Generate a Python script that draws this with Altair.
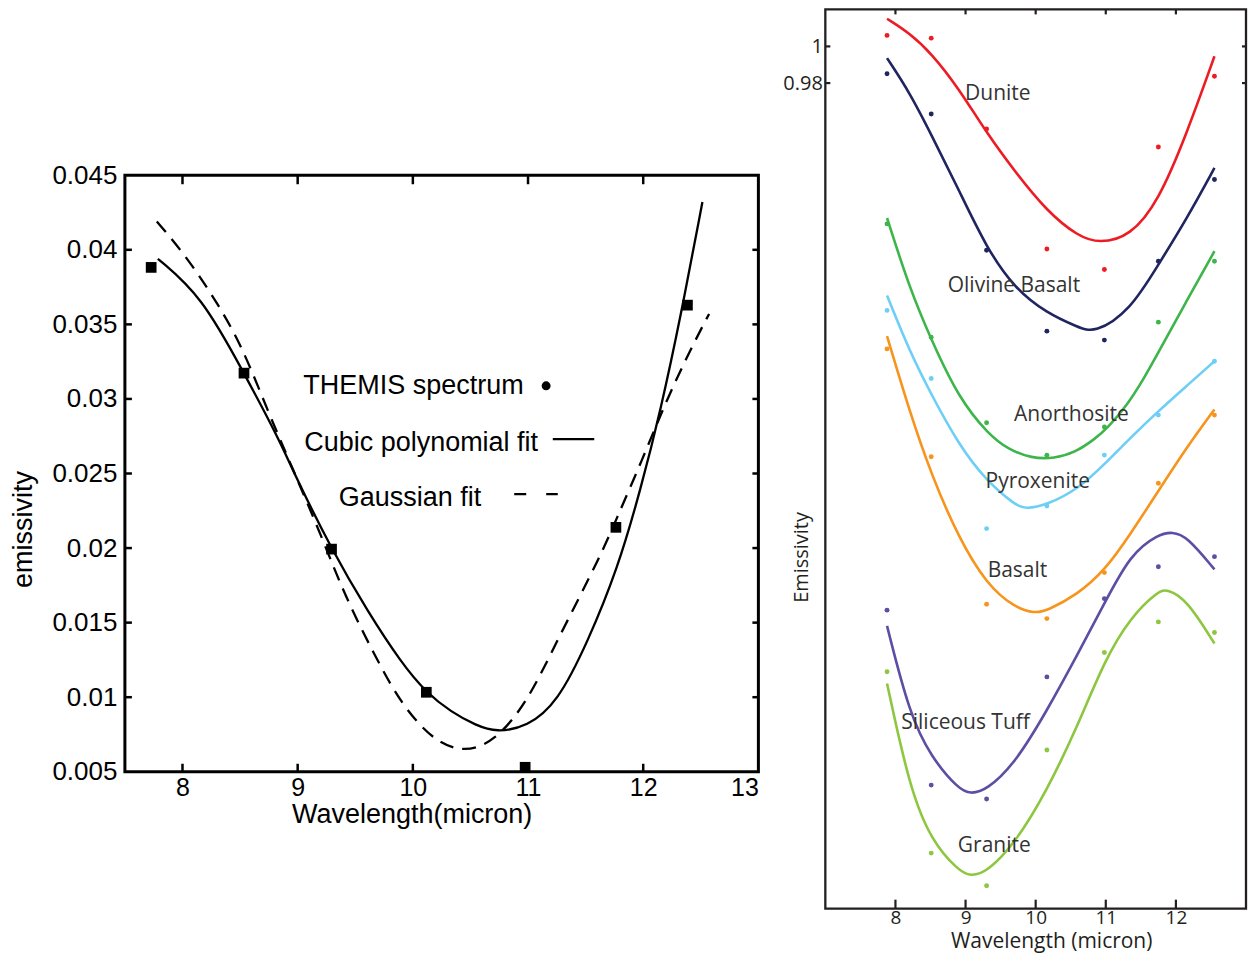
import altair as alt
import pandas as pd

# ---------------- Left panel: THEMIS spectrum with two fits ----------------
themis_wl = [7.728, 8.534, 9.294, 10.117, 10.975, 11.763, 12.384]
themis_em = [0.03882, 0.03173, 0.01993, 0.01033, 0.00530, 0.02139, 0.03629]

cubic_wl = [7.786, 8.167, 8.529, 8.832, 8.976, 9.294, 9.611, 9.900, 10.117,
            10.334, 10.550, 10.724, 10.993, 11.258, 11.518, 11.778, 11.980,
            12.153, 12.327, 12.514]
cubic_em = [0.0394, 0.0369, 0.0318, 0.0274, 0.0249, 0.0199, 0.0157, 0.0123,
            0.0103, 0.0090, 0.0081, 0.00765, 0.0080, 0.00966, 0.0137, 0.0186,
            0.0240, 0.0293, 0.0356, 0.0432]

gauss_wl = [7.777, 8.009, 8.283, 8.514, 8.745, 8.947, 9.207, 9.409, 9.669,
            9.900, 10.189, 10.449, 10.709, 10.998, 11.258, 11.633, 11.792,
            11.980, 12.211, 12.442, 12.572]
gauss_em = [0.0419, 0.0398, 0.0367, 0.0336, 0.0291, 0.0255, 0.0208, 0.0168,
            0.0128, 0.0095, 0.0070, 0.0063, 0.0070, 0.0097, 0.0139, 0.0195,
            0.0224, 0.0257, 0.0301, 0.0338, 0.0357]

left_x_ticks = [8, 9, 10, 11, 12, 13]
left_y_ticks = [0.005, 0.01, 0.015, 0.02, 0.025, 0.03, 0.035, 0.04, 0.045]

legend_labels = ["THEMIS spectrum", "Cubic polynomial fit", "Gaussian fit"]
legend_label_wl = [9.049, 9.057, 9.357]
legend_label_em = [0.03032, 0.02652, 0.02284]

# ---------------- Right panel: laboratory rock spectra ----------------
rocks = ["Dunite", "Olivine Basalt", "Anorthosite", "Pyroxenite", "Basalt",
         "Siliceous Tuff", "Granite"]
rock_colors = ["#ed1c24", "#1f2561", "#3db54a", "#6dcff6", "#f7941d",
               "#5c4ea3", "#8dc63f"]

band_wl = [7.88, 8.51, 9.30, 10.16, 10.98, 11.75, 12.55]
dunite_pts = [1.0060, 1.0045, 0.9550, 0.8895, 0.8783, 0.9451, 0.9837]
olivine_pts = [0.9851, 0.9631, 0.8888, 0.8447, 0.8398, 0.8828, 0.9274]
anorth_pts = [0.9032, 0.8414, 0.7947, 0.7770, 0.7924, 0.8496, 0.8828]
pyrox_pts = [0.8560, 0.8189, 0.7370, 0.7493, 0.7771, 0.7989, 0.8283]
basalt_pts = [0.8350, 0.7762, 0.6957, 0.6879, 0.7130, 0.7617, 0.7989]
tuff_pts = [0.6925, 0.5971, 0.5895, 0.6561, 0.6988, 0.7162, 0.7217]
granite_pts = [0.6589, 0.5600, 0.5422, 0.6162, 0.6694, 0.6861, 0.6803]

dunite_fit_wl = [7.88, 8.20, 8.51, 8.90, 9.30, 9.70, 10.16, 10.60, 10.91, 11.35, 11.75, 12.15, 12.55]
dunite_fit_em = [1.0151, 1.0073, 0.9964, 0.9773, 0.9528, 0.9319, 0.9101, 0.8965, 0.8925, 0.8965, 0.9155, 0.9519, 0.9946]

olivine_fit_wl = [7.88, 8.20, 8.51, 8.90, 9.30, 9.70, 10.16, 10.60, 10.84, 11.35, 11.75, 12.15, 12.55]
olivine_fit_em = [0.9936, 0.9750, 0.9520, 0.9220, 0.8900, 0.8680, 0.8545, 0.8470, 0.8434, 0.8560, 0.8810, 0.9057, 0.9337]

anorth_fit_wl = [7.88, 8.20, 8.51, 8.90, 9.326, 9.61, 9.94, 10.27, 10.556, 10.84, 11.028, 11.312, 11.549, 11.75, 12.15, 12.55]
anorth_fit_em = [0.9064, 0.8683, 0.8400, 0.8083, 0.7884, 0.7802, 0.7753, 0.7753, 0.7784, 0.7857, 0.7920, 0.8047, 0.8192, 0.8330, 0.8610, 0.8883]

pyrox_fit_wl = [7.88, 8.20, 8.51, 8.90, 9.30, 9.70, 9.85, 10.16, 10.60, 10.98, 11.35, 11.75, 12.15, 12.55]
pyrox_fit_em = [0.8641, 0.8338, 0.8102, 0.7829, 0.7629, 0.7502, 0.7475, 0.7499, 0.7584, 0.7720, 0.7865, 0.8011, 0.8147, 0.8283]

basalt_fit_wl = [7.88, 8.20, 8.51, 8.90, 9.30, 9.70, 9.99, 10.16, 10.60, 10.98, 11.35, 11.75, 12.15, 12.55]
basalt_fit_em = [0.8420, 0.8011, 0.7666, 0.7320, 0.7066, 0.6939, 0.6908, 0.6921, 0.7012, 0.7139, 0.7339, 0.7575, 0.7811, 0.8020]

tuff_fit_wl = [7.88, 8.20, 8.51, 8.90, 9.07, 9.30, 9.70, 10.16, 10.60, 10.98, 11.35, 11.75, 11.95, 12.15, 12.55]
tuff_fit_em = [0.6839, 0.6358, 0.6122, 0.5949, 0.5922, 0.5944, 0.6086, 0.6376, 0.6685, 0.6962, 0.7230, 0.7339, 0.7352, 0.7330, 0.7148]

granite_fit_wl = [7.88, 8.20, 8.51, 8.90, 9.07, 9.30, 9.70, 10.16, 10.60, 10.98, 11.35, 11.75, 11.88, 12.15, 12.55]
granite_fit_em = [0.6525, 0.5958, 0.5668, 0.5504, 0.5473, 0.5495, 0.5650, 0.5940, 0.6294, 0.6649, 0.6885, 0.7030, 0.7039, 0.6985, 0.6743]

label_wl = [9.46, 9.69, 10.51, 10.03, 9.74, 9.00, 9.41]
label_em = [0.9738, 0.8694, 0.7989, 0.7624, 0.7139, 0.6312, 0.5640]

right_x_ticks = [8, 9, 10, 11, 12]
right_y_ticks = [0.98, 1]

# ---------------- build tables ----------------
themis_df = pd.DataFrame({"wl": themis_wl, "em": themis_em})
cubic_df = pd.DataFrame({"wl": cubic_wl, "em": cubic_em})
gauss_df = pd.DataFrame({"wl": gauss_wl, "em": gauss_em})
legend_df = pd.DataFrame({"wl": legend_label_wl, "em": legend_label_em, "txt": legend_labels})

pts_by_rock = [dunite_pts, olivine_pts, anorth_pts, pyrox_pts, basalt_pts, tuff_pts, granite_pts]
fits_by_rock = [
    (dunite_fit_wl, dunite_fit_em), (olivine_fit_wl, olivine_fit_em),
    (anorth_fit_wl, anorth_fit_em), (pyrox_fit_wl, pyrox_fit_em),
    (basalt_fit_wl, basalt_fit_em), (tuff_fit_wl, tuff_fit_em),
    (granite_fit_wl, granite_fit_em),
]
pts_rows, fit_rows = [], []
for rock, pts, (fw, fe) in zip(rocks, pts_by_rock, fits_by_rock):
    pts_rows += [{"rock": rock, "wl": w, "em": e} for w, e in zip(band_wl, pts)]
    fit_rows += [{"rock": rock, "wl": w, "em": e} for w, e in zip(fw, fe)]
rock_pts_df = pd.DataFrame(pts_rows)
rock_fit_df = pd.DataFrame(fit_rows)
rock_lbl_df = pd.DataFrame({"wl": label_wl, "em": label_em, "rock": rocks})

# ---------------- left chart ----------------
LW, LH = 634, 597
LFONT = "Liberation Sans"

lx = alt.Scale(domain=[7.5, 13], nice=False, zero=False)
ly = alt.Scale(domain=[0.005, 0.045], nice=False, zero=False)

lx_axis = alt.Axis(values=left_x_ticks, format="d", ticks=False, domain=False, grid=False,
                   labelFont=LFONT, labelFontSize=25, labelColor="black",
                   labelPadding=4, labelFlush=True,
                   title="Wavelength(micron)", titleFont=LFONT, titleFontSize=27,
                   titleFontWeight="normal", titleColor="black",
                   titleX=287, titleY=51, titleBaseline="alphabetic", titleAlign="center")
ly_axis = alt.Axis(values=left_y_ticks, format="~g", ticks=False, domain=False, grid=False,
                   labelFont=LFONT, labelFontSize=26, labelColor="black",
                   labelPadding=8, labelFlush=False,
                   title="emissivity", titleFont=LFONT, titleFontSize=27,
                   titleFontWeight="normal", titleColor="black", titleAngle=-90,
                   titleX=-93, titleY=354, titleBaseline="alphabetic", titleAlign="center")

l_points = alt.Chart(themis_df).mark_square(size=115, color="black", opacity=1).encode(
    x=alt.X("wl:Q", scale=lx, axis=lx_axis),
    y=alt.Y("em:Q", scale=ly, axis=ly_axis),
)
l_cubic = alt.Chart(cubic_df).mark_line(color="black", strokeWidth=2.3, interpolate="basis").encode(
    x=alt.X("wl:Q", scale=lx), y=alt.Y("em:Q", scale=ly))
l_gauss = alt.Chart(gauss_df).mark_line(color="black", strokeWidth=2.3, strokeDash=[14, 9],
                                        interpolate="basis").encode(
    x=alt.X("wl:Q", scale=lx), y=alt.Y("em:Q", scale=ly))

l_legend_text = alt.Chart(legend_df).mark_text(align="left", baseline="alphabetic", font=LFONT,
                                               fontSize=27, color="black").encode(
    x=alt.X("wl:Q", scale=lx), y=alt.Y("em:Q", scale=ly), text="txt:N")
l_legend_dot = alt.Chart(pd.DataFrame({"wl": [11.157], "em": [0.03088]})).mark_circle(
    size=80, color="black", opacity=1).encode(x=alt.X("wl:Q", scale=lx), y=alt.Y("em:Q", scale=ly))
l_legend_line = alt.Chart(pd.DataFrame({"wl": [11.215], "wl2": [11.575], "em": [0.02731]})).mark_rule(
    color="black", strokeWidth=2.3).encode(x=alt.X("wl:Q", scale=lx), x2="wl2:Q", y=alt.Y("em:Q", scale=ly))
l_legend_dash = alt.Chart(pd.DataFrame({"wl": [10.880], "wl2": [11.258], "em": [0.02362]})).mark_rule(
    color="black", strokeWidth=2.3, strokeDash=[12, 20]).encode(
    x=alt.X("wl:Q", scale=lx), x2="wl2:Q", y=alt.Y("em:Q", scale=ly))

lxt_df = pd.DataFrame({"v": left_x_ticks[:-1]})
lyt_df = pd.DataFrame({"v": left_y_ticks[1:-1]})
l_tick_b = alt.Chart(lxt_df).mark_rule(color="black", strokeWidth=2.5).encode(
    x=alt.X("v:Q", scale=lx), y=alt.value(LH), y2=alt.value(LH - 8))
l_tick_t = alt.Chart(lxt_df).mark_rule(color="black", strokeWidth=2.5).encode(
    x=alt.X("v:Q", scale=lx), y=alt.value(0), y2=alt.value(9))
l_tick_l = alt.Chart(lyt_df).mark_rule(color="black", strokeWidth=2.5).encode(
    y=alt.Y("v:Q", scale=ly), x=alt.value(0), x2=alt.value(7))
l_tick_r = alt.Chart(lyt_df).mark_rule(color="black", strokeWidth=2.5).encode(
    y=alt.Y("v:Q", scale=ly), x=alt.value(LW), x2=alt.value(LW - 6))

left = alt.layer(
    l_points, l_cubic, l_gauss, l_legend_text, l_legend_dot, l_legend_line, l_legend_dash,
    l_tick_b, l_tick_t, l_tick_l, l_tick_r,
).properties(width=LW, height=LH, view=alt.ViewBackground(stroke="black", strokeWidth=3))

# empty block that holds the left panel lower down the page
spacer = alt.Chart(pd.DataFrame({"v": [0]})).mark_point(opacity=0, size=1).encode(
    x=alt.value(1), y=alt.value(1)
).properties(width=LW, height=150, view=alt.ViewBackground(stroke="transparent"))

# ---------------- right chart ----------------
RW, RH = 421, 900
RFONT = "Open Sans"
TXT = "#231f20"

rx = alt.Scale(domain=[7, 13], nice=False, zero=False)
ry = alt.Scale(domain=[0.5297, 1.0202], nice=False, zero=False)
rcol = alt.Scale(domain=rocks, range=rock_colors)

rx_axis = alt.Axis(values=right_x_ticks, format="d", ticks=False, domain=False, grid=False,
                   labelFont=RFONT, labelFontSize=19, labelColor=TXT, labelPadding=0,
                   title="Wavelength (micron)", titleFont=RFONT, titleFontSize=21,
                   titleFontWeight="normal", titleColor=TXT,
                   titleX=226, titleY=39, titleBaseline="alphabetic", titleAlign="center")
ry_axis = alt.Axis(values=right_y_ticks, format="~g", ticks=False, domain=False, grid=False,
                   labelFont=RFONT, labelFontSize=20, labelColor=TXT, labelPadding=3,
                   labelFlush=False,
                   title="Emissivity", titleFont=RFONT, titleFontSize=20,
                   titleFontWeight="normal", titleColor=TXT, titleAngle=-90,
                   titleX=-18, titleY=548, titleBaseline="alphabetic", titleAlign="center")

r_lines = alt.Chart(rock_fit_df).mark_line(strokeWidth=2.6, interpolate="basis").encode(
    x=alt.X("wl:Q", scale=rx, axis=rx_axis),
    y=alt.Y("em:Q", scale=ry, axis=ry_axis),
    color=alt.Color("rock:N", scale=rcol, legend=None),
    detail="rock:N",
)
r_dots = alt.Chart(rock_pts_df).mark_circle(size=24, opacity=1).encode(
    x=alt.X("wl:Q", scale=rx), y=alt.Y("em:Q", scale=ry),
    color=alt.Color("rock:N", scale=rcol, legend=None),
)
r_labels = alt.Chart(rock_lbl_df).mark_text(font=RFONT, fontSize=21, color="#333333",
                                            align="center", baseline="middle").encode(
    x=alt.X("wl:Q", scale=rx), y=alt.Y("em:Q", scale=ry), text="rock:N")

rxt_df = pd.DataFrame({"v": right_x_ticks})
ryt_df = pd.DataFrame({"v": right_y_ticks})
r_tick_b = alt.Chart(rxt_df).mark_rule(color=TXT, strokeWidth=2.2).encode(
    x=alt.X("v:Q", scale=rx), y=alt.value(RH), y2=alt.value(RH - 9))
r_tick_t = alt.Chart(rxt_df).mark_rule(color=TXT, strokeWidth=2.2).encode(
    x=alt.X("v:Q", scale=rx), y=alt.value(0), y2=alt.value(5))
r_tick_l = alt.Chart(ryt_df).mark_rule(color=TXT, strokeWidth=2.2).encode(
    y=alt.Y("v:Q", scale=ry), x=alt.value(0), x2=alt.value(5))
r_tick_r = alt.Chart(ryt_df).mark_rule(color=TXT, strokeWidth=2.2).encode(
    y=alt.Y("v:Q", scale=ry), x=alt.value(RW), x2=alt.value(RW - 4))

right = alt.layer(
    r_lines, r_dots, r_labels, r_tick_b, r_tick_t, r_tick_l, r_tick_r,
).properties(width=RW, height=RH, view=alt.ViewBackground(stroke=TXT, strokeWidth=2.3))

chart = alt.hconcat(
    alt.vconcat(spacer, left, spacing=0),
    right,
    spacing=20,
).properties(
    padding={"left": 8, "top": 6, "right": 0, "bottom": 0},
    background="white",
)

chart.save("out.html", embed_options={"renderer": "svg", "actions": False})
